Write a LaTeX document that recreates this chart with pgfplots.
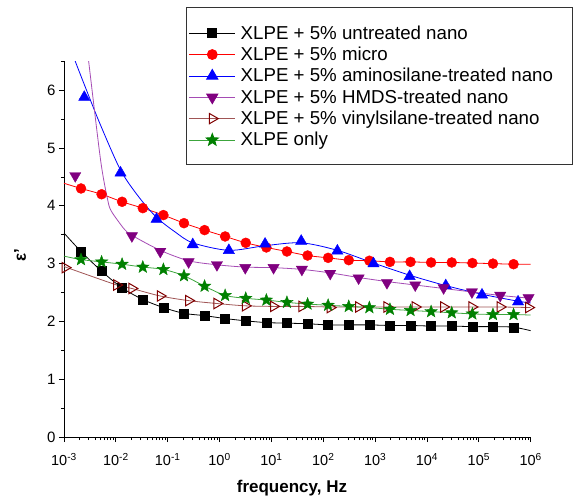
\documentclass[border=0pt]{standalone}
\usepackage{pgfplots}
\pgfplotsset{compat=1.18}
\usepackage{fontspec}
\setmainfont{Liberation Sans}
\definecolor{mypurple}{RGB}{128,0,128}
\definecolor{mypurpleline}{RGB}{165,75,180}
\definecolor{mybrown}{RGB}{128,0,0}
\definecolor{mybrownline}{RGB}{160,85,85}
\definecolor{mygreen}{RGB}{0,128,0}
\definecolor{mygreenline}{RGB}{60,165,60}
\pgfdeclareplotmark{fstar}{%
  \pgfpathmoveto{\pgfqpointpolar{90}{\pgfplotmarksize}}%
  \pgfpathlineto{\pgfqpointpolar{126}{0.42\pgfplotmarksize}}%
  \pgfpathlineto{\pgfqpointpolar{162}{\pgfplotmarksize}}%
  \pgfpathlineto{\pgfqpointpolar{198}{0.42\pgfplotmarksize}}%
  \pgfpathlineto{\pgfqpointpolar{234}{\pgfplotmarksize}}%
  \pgfpathlineto{\pgfqpointpolar{270}{0.42\pgfplotmarksize}}%
  \pgfpathlineto{\pgfqpointpolar{306}{\pgfplotmarksize}}%
  \pgfpathlineto{\pgfqpointpolar{342}{0.42\pgfplotmarksize}}%
  \pgfpathlineto{\pgfqpointpolar{18}{\pgfplotmarksize}}%
  \pgfpathlineto{\pgfqpointpolar{54}{0.42\pgfplotmarksize}}%
  \pgfpathclose
  \pgfusepathqfillstroke}
\begin{document}
\begin{tikzpicture}
\begin{axis}[
  scale only axis, width=466.7pt, height=375.7pt,
  xmode=log, xmin=1e-3, xmax=1e6, ymin=0, ymax=6.5,
  axis lines*=left, axis line style={line width=0.9pt},
  tick align=outside, major tick length=5pt, minor tick length=3pt,
  every tick/.style={black, line width=0.8pt},
  xtick={1e-3,1e-2,1e-1,1,10,100,1e3,1e4,1e5,1e6},
  xticklabels={10\textsuperscript{-3},10\textsuperscript{-2},10\textsuperscript{-1},10\textsuperscript{0},10\textsuperscript{1},10\textsuperscript{2},10\textsuperscript{3},10\textsuperscript{4},10\textsuperscript{5},10\textsuperscript{6}},
  ytick={0,1,2,3,4,5,6}, minor ytick={0.5,1.5,2.5,3.5,4.5,5.5,6.5},
  /pgf/number format/assume math mode=true,
  xticklabel style={font=\fontsize{14.5}{14.5}\selectfont, yshift=-8pt},
  yticklabel style={font=\fontsize{15}{15}\selectfont},
  xlabel={\textbf{frequency, Hz}}, ylabel={\textbf{ε'}},
  label style={font=\fontsize{17}{17}\selectfont},
  xlabel style={at={(axis description cs:0.4885,-0.1357)}, anchor=center},
  ylabel style={at={(axis description cs:-0.094,0.484)}, anchor=center},
  legend style={at={(0.2629,1.1300)}, anchor=north west, draw=none, fill=none,
    font=\fontsize{18.7}{21}\selectfont, inner xsep=2pt, inner ysep=11pt, row sep=2.3pt,
    /tikz/every odd column/.append style={column sep=3pt}},
  legend cell align=left,
  legend image code/.code={\draw[mark repeat=2,mark phase=2,#1] plot coordinates {(0pt,0pt) (23pt,0pt) (46pt,0pt)};},
]
% ---------- lines ----------
\addplot[black, line width=0.8pt, smooth, forget plot] coordinates {
(1e-3,3.53)(2.13e-3,3.21)(5.31e-3,2.87)(1.32e-2,2.58)(3.31e-2,2.38)(8.26e-2,2.24)(0.206,2.14)(0.514,2.10)(1.28,2.05)(3.20,2.01)(7.99,1.98)(19.9,1.97)(49.8,1.96)(124,1.94)(310,1.94)(774,1.94)(1930,1.93)(4820,1.93)(1.20e4,1.92)(3.00e4,1.92)(7.50e4,1.91)(1.87e5,1.91)(4.67e5,1.90)(1e6,1.84)};
\addplot[red, line width=0.8pt, smooth, forget plot] coordinates {
(1e-3,4.39)(2.13e-3,4.30)(5.31e-3,4.20)(1.32e-2,4.07)(3.31e-2,3.96)(8.26e-2,3.84)(0.206,3.70)(0.514,3.58)(1.28,3.47)(3.20,3.36)(7.99,3.28)(19.9,3.21)(49.8,3.14)(124,3.10)(310,3.06)(774,3.05)(1930,3.03)(4820,3.03)(1.20e4,3.02)(3.00e4,3.02)(7.50e4,3.01)(1.87e5,3.00)(4.67e5,2.99)(1e6,2.99)};
\addplot[blue, line width=0.8pt, smooth, forget plot] coordinates {
(1.43e-3,6.65)(1.65e-3,6.5)(2.46e-3,6.1)(4.94e-3,5.42)(1.23e-2,4.62)(2.79e-2,4.15)(6.10e-2,3.80)(0.138,3.55)(0.304,3.36)(1.51,3.23)(7.54,3.31)(37.5,3.36)(187,3.23)(929,3.01)(4620,2.80)(2.30e4,2.62)(1.15e5,2.47)(5.70e5,2.35)(1e6,2.32)};
\addplot[mypurpleline, line width=0.8pt, smooth, forget plot] coordinates {
(2.62e-3,6.93)(2.99e-3,6.5)(5.10e-3,4.78)(7.05e-3,4.08)(8.17e-3,3.91)(1.10e-2,3.74)(1.48e-2,3.59)(2.04e-2,3.49)(7.19e-2,3.23)(0.253,3.05)(0.890,2.98)(3.13,2.94)(11.0,2.93)(38.7,2.90)(136,2.84)(480,2.76)(1690,2.69)(5930,2.63)(2.09e4,2.57)(7.35e4,2.51)(2.58e5,2.45)(1e6,2.40)};
\addplot[mybrownline, line width=0.8pt, smooth, forget plot] coordinates {
(1e-3,2.95)(1.04e-2,2.63)(2.04e-2,2.57)(7.19e-2,2.44)(0.253,2.36)(0.890,2.31)(3.13,2.27)(11.0,2.26)(38.7,2.26)(136,2.25)(480,2.25)(1690,2.25)(5930,2.25)(2.09e4,2.25)(7.35e4,2.25)(2.58e5,2.25)(1e6,2.24)};
\addplot[mygreenline, line width=0.8pt, smooth, forget plot] coordinates {
(1e-3,3.13)(2.13e-3,3.07)(5.31e-3,3.03)(1.32e-2,2.99)(3.31e-2,2.94)(8.26e-2,2.90)(0.206,2.79)(0.514,2.61)(1.28,2.45)(3.20,2.40)(7.99,2.37)(19.9,2.33)(49.8,2.30)(124,2.28)(310,2.26)(774,2.24)(1930,2.21)(4820,2.19)(1.20e4,2.17)(3.00e4,2.15)(7.50e4,2.13)(1.87e5,2.12)(4.67e5,2.12)(1e6,2.11)};
% ---------- markers ----------
\addplot[only marks, mark=square*, mark size=4.5pt, mark options={black, fill=black}, forget plot] coordinates {
(2.13e-3,3.21)(5.31e-3,2.87)(1.32e-2,2.58)(3.31e-2,2.38)(8.26e-2,2.24)(0.206,2.14)(0.514,2.10)(1.28,2.05)(3.20,2.01)(7.99,1.98)(19.9,1.97)(49.8,1.96)(124,1.94)(310,1.94)(774,1.94)(1930,1.93)(4820,1.93)(1.20e4,1.92)(3.00e4,1.92)(7.50e4,1.91)(1.87e5,1.91)(4.67e5,1.90)};
\addplot[only marks, mark=*, mark size=5pt, mark options={red, fill=red}, forget plot] coordinates {
(2.13e-3,4.30)(5.31e-3,4.20)(1.32e-2,4.07)(3.31e-2,3.96)(8.26e-2,3.84)(0.206,3.70)(0.514,3.58)(1.28,3.47)(3.20,3.36)(7.99,3.28)(19.9,3.21)(49.8,3.14)(124,3.10)(310,3.06)(774,3.05)(1930,3.03)(4820,3.03)(1.20e4,3.02)(3.00e4,3.02)(7.50e4,3.01)(1.87e5,3.00)(4.67e5,2.99)};
\addplot[only marks, mark=triangle*, mark size=6.5pt, mark options={blue, fill=blue}, forget plot] coordinates {
(2.46e-3,5.88)(1.23e-2,4.57)(6.10e-2,3.77)(0.304,3.33)(1.51,3.23)(7.54,3.34)(37.5,3.39)(187,3.22)(929,3.00)(4620,2.78)(2.30e4,2.62)(1.15e5,2.46)(5.70e5,2.34)};
\addplot[only marks, mark=triangle*, mark size=6.5pt, mark options={mypurple, fill=mypurple, rotate=180}, forget plot] coordinates {
(1.65e-3,4.52)(2.04e-2,3.48)(7.19e-2,3.21)(0.253,3.03)(0.890,2.98)(3.13,2.93)(11.0,2.93)(38.7,2.90)(136,2.83)(480,2.75)(1690,2.67)(5930,2.63)(2.09e4,2.58)(7.35e4,2.51)(2.58e5,2.45)(9.08e5,2.41)};
\addplot[only marks, mark=triangle, mark size=6pt, mark options={mybrown, rotate=-90, line width=1pt}, forget plot] coordinates {
(1.05e-3,2.93)(1.04e-2,2.63)(2.04e-2,2.57)(7.19e-2,2.44)(0.253,2.36)(0.890,2.31)(3.13,2.27)(11.0,2.26)(38.7,2.26)(136,2.24)(480,2.25)(1690,2.25)(5930,2.25)(2.09e4,2.25)(7.35e4,2.25)(2.58e5,2.25)(9.08e5,2.24)};
\addplot[only marks, mark=fstar, mark size=6.5pt, mark options={mygreen, fill=mygreen}, forget plot] coordinates {
(2.13e-3,3.07)(5.31e-3,3.03)(1.32e-2,2.99)(3.31e-2,2.94)(8.26e-2,2.90)(0.206,2.79)(0.514,2.61)(1.28,2.45)(3.20,2.40)(7.99,2.37)(19.9,2.33)(49.8,2.30)(124,2.28)(310,2.26)(774,2.24)(1930,2.21)(4820,2.19)(1.20e4,2.17)(3.00e4,2.15)(7.50e4,2.13)(1.87e5,2.12)(4.67e5,2.12)};
% ---------- legend ----------
\addlegendimage{black, line width=0.8pt, mark=square*, mark size=4.5pt, mark options={fill=black}}
\addlegendentry{XLPE + 5\% untreated nano}
\addlegendimage{red, line width=0.8pt, mark=*, mark size=5pt, mark options={fill=red}}
\addlegendentry{XLPE + 5\% micro}
\addlegendimage{blue, line width=0.8pt, mark=triangle*, mark size=6.5pt, mark options={fill=blue}}
\addlegendentry{XLPE + 5\% aminosilane-treated nano}
\addlegendimage{mypurpleline, line width=0.8pt, mark=triangle*, mark size=6.5pt, mark options={mypurple, fill=mypurple, rotate=180}}
\addlegendentry{XLPE + 5\% HMDS-treated nano}
\addlegendimage{mybrownline, line width=0.8pt, mark=triangle, mark size=6pt, mark options={mybrown, rotate=-90, line width=1pt}}
\addlegendentry{XLPE + 5\% vinylsilane-treated nano}
\addlegendimage{mygreenline, line width=0.8pt, mark=fstar, mark size=6.5pt, mark options={mygreen, fill=mygreen}}
\addlegendentry{XLPE only}
\path (rel axis cs:-0.1371,-0.1677) coordinate (bbl) (rel axis cs:1.1013,1.1632) coordinate (btr);
\path (rel axis cs:0.2629,0.7258) coordinate (lbl) (rel axis cs:1.0885,1.1437) coordinate (ltr);
\end{axis}
\draw[line width=0.9pt, black!80] (lbl) rectangle (ltr);
\path (bbl) rectangle (btr);
\end{tikzpicture}
\end{document}
